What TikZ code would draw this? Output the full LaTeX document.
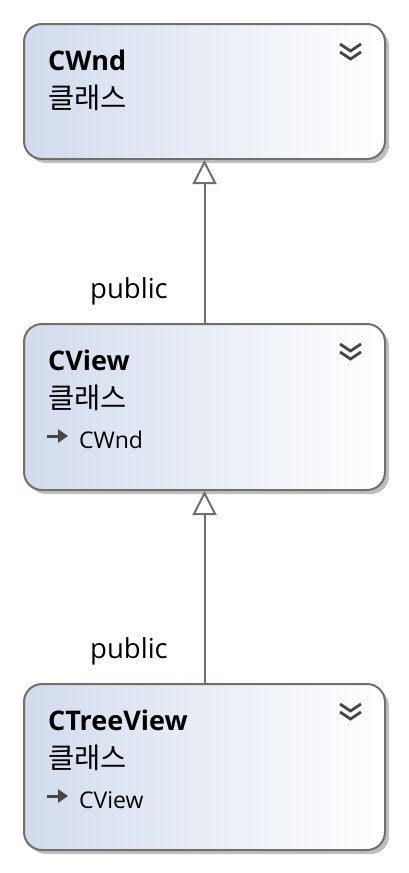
\documentclass[tikz,border=0pt]{standalone}
\usepackage{fontspec}
\setmainfont{Open Sans}
\newfontfamily\kr{Noto Sans CJK KR}
\usetikzlibrary{arrows.meta,shadows}

\tikzset{
  classbox/.style={rectangle,rounded corners=18pt,draw=boxline,line width=2pt,
    left color=boxleft,right color=white,minimum width=361pt,
    drop shadow={shadow xshift=4pt,shadow yshift=-4pt,opacity=.25,fill=black}},
  title/.style={anchor=base west,inner sep=0pt,font=\fontsize{27}{30}\selectfont\bfseries},
  kind/.style={anchor=base west,inner sep=0pt,font=\fontsize{28.5}{30}\selectfont\kr},
  base/.style={anchor=base west,inner sep=0pt,font=\fontsize{23}{25}\selectfont},
  edgelabel/.style={anchor=base,inner sep=0pt,font=\fontsize{27.5}{30}\selectfont},
  inherit/.style={draw=boxline,line width=2pt,-{Triangle[open,length=24pt,width=24pt,line width=2pt]}},
  expand/.style={draw=iconcol,line width=2.8pt},
  baseicon/.style={draw=iconcol,line width=3pt,-{Triangle[length=10pt,width=13pt]}}
}
\definecolor{boxline}{RGB}{112,112,104}
\definecolor{boxleft}{RGB}{210,219,237}
\definecolor{iconcol}{RGB}{70,70,70}

\begin{document}
\begin{tikzpicture}[x=1pt,y=-1pt]
  \useasboundingbox (0,0) rectangle (408,873);
  % classes
  \node[classbox,minimum height=135pt] (cwnd) at (204.5,91.5) {};
  \node[classbox,minimum height=166pt] (cview) at (204.5,407) {};
  \node[classbox,minimum height=166pt] (ctreeview) at (204.5,767) {};
  % CWnd
  \node[title] (cwndname) at (48,70) {CWnd};
  \node[kind] (cwndkind) at (48,108) {클래스};
  \draw[expand] (340,44) -- (350.5,51) -- (361,44) (340,52) -- (350.5,59) -- (361,52);
  % CView
  \node[title] (cviewname) at (48,370) {CView};
  \node[kind] (cviewkind) at (48,408) {클래스};
  \node[base] (cviewbase) at (79,448) {CWnd};
  \draw[baseicon] (47,436) -- (68,436);
  \draw[expand] (340,344) -- (350.5,351) -- (361,344) (340,352) -- (350.5,359) -- (361,352);
  % CTreeView
  \node[title] (ctreename) at (48,730) {CTreeView};
  \node[kind] (ctreekind) at (48,768) {클래스};
  \node[base] (ctreebase) at (79,808) {CView};
  \draw[baseicon] (47,796) -- (68,796);
  \draw[expand] (340,704) -- (350.5,711) -- (361,704) (340,712) -- (350.5,719) -- (361,712);
  % inheritance
  \draw[inherit] (cview.north) -- (cwnd.south);
  \draw[inherit] (ctreeview.north) -- (cview.south);
  \node[edgelabel] (pub1) at (129,298) {public};
  \node[edgelabel] (pub2) at (129,658) {public};
\end{tikzpicture}
\end{document}
